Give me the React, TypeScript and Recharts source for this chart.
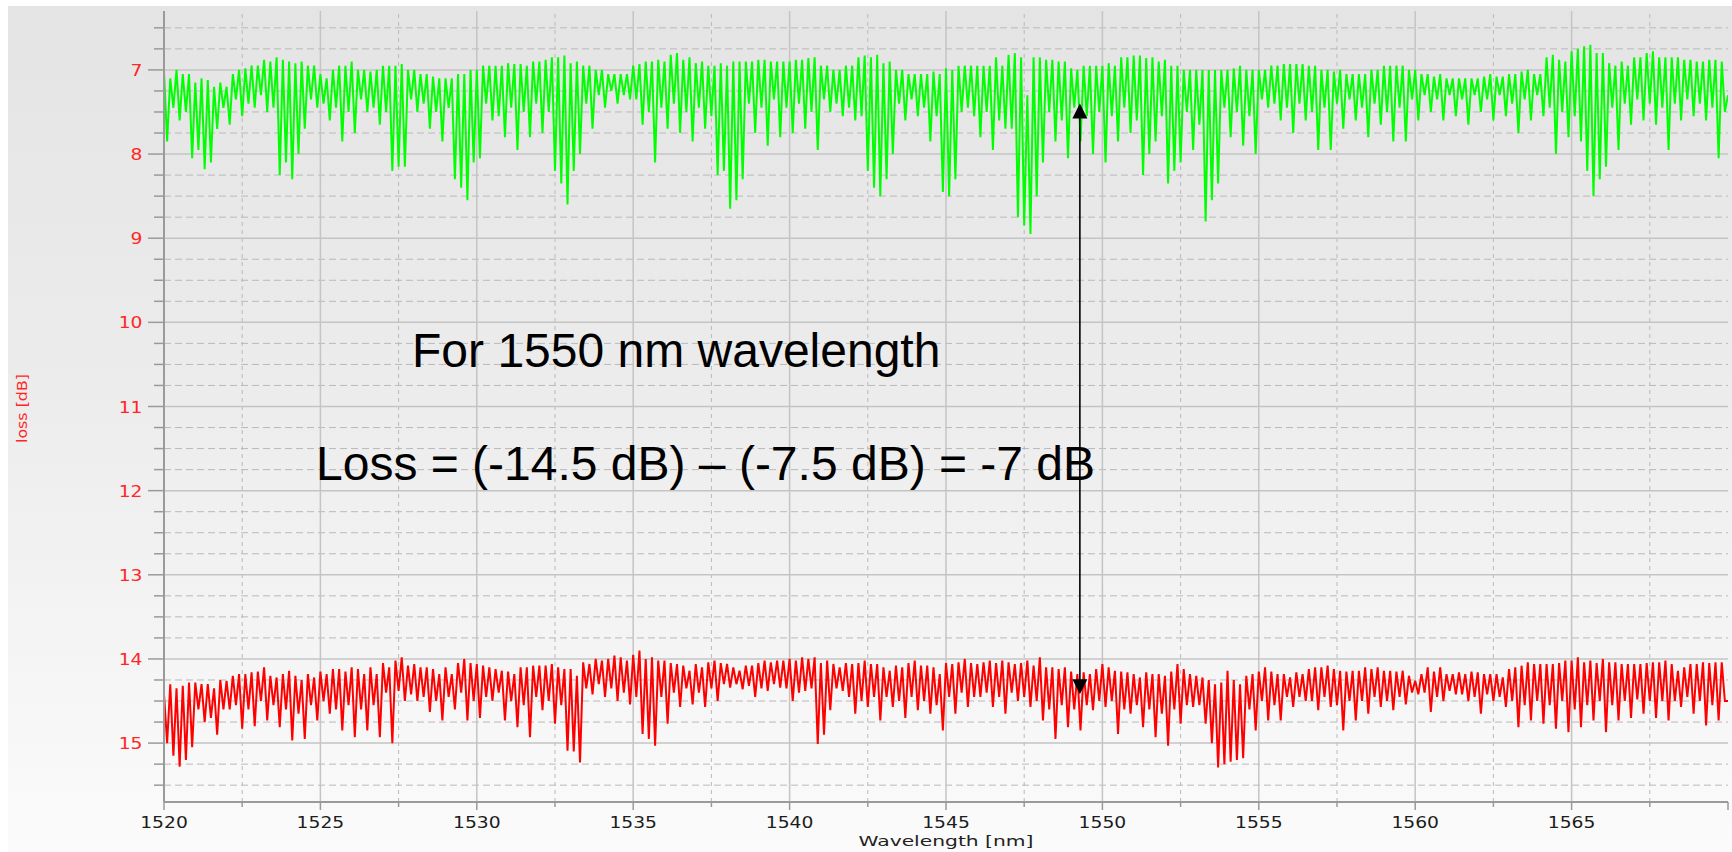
import React from 'react';
import { LineChart, Line, XAxis, YAxis, ReferenceLine, ReferenceDot } from 'recharts';

// Sampling grid of the two traces (nm)
const WL_START = 1520;
const WL_STEP = 0.1;

const greenPeaks = [
  7.02, 7.85, 7.0, 7.6, 7.05, 8.05, 7.1, 8.18, 7.2, 7.7,
  7.2, 7.65, 7.0, 7.55, 6.95, 7.45, 6.88, 7.5, 6.85, 8.25,
  6.9, 8.3, 6.9, 7.7, 6.95, 7.45, 7.1, 7.6, 6.95, 7.85,
  6.9, 7.75, 7.0, 7.5, 7.0, 7.65, 6.95, 8.2, 6.93, 8.15,
  7.0, 7.5, 7.05, 7.7, 7.1, 7.85, 7.1, 8.3, 7.05, 8.55,
  7.0, 8.05, 6.95, 7.6, 6.95, 7.8, 6.93, 7.95, 6.95, 7.8,
  6.9, 7.75, 6.85, 8.2, 6.83, 8.6, 6.9, 8.0, 6.95, 7.7,
  7.0, 7.45, 7.05, 7.4, 7.05, 7.35, 6.93, 7.65, 6.9, 8.1,
  6.9, 7.7, 6.8, 7.75, 6.85, 7.85, 6.9, 7.7, 6.95, 8.25,
  6.95, 8.65, 6.9, 8.3, 6.9, 7.75, 6.88, 7.9, 6.9, 7.8,
  6.9, 7.75, 6.88, 7.7, 6.85, 7.95, 6.95, 7.5, 7.0, 7.55,
  6.95, 7.6, 6.83, 8.2, 6.82, 8.5, 6.9, 8.0, 7.0, 7.6,
  7.05, 7.55, 7.05, 7.85, 7.05, 8.45, 7.0, 8.3, 6.95, 7.45,
  6.95, 7.8, 6.95, 7.95, 6.95, 7.7, 6.8, 8.75, 7.3, 8.95,
  6.85, 8.1, 6.88, 7.85, 6.9, 8.05, 7.0, 7.85, 6.95, 8.0,
  6.95, 8.1, 6.95, 7.85, 6.85, 7.75, 6.83, 8.25, 6.85, 7.85,
  6.88, 8.35, 6.95, 8.1, 7.0, 7.95, 7.0, 8.8, 7.0, 8.35,
  7.0, 7.8, 6.95, 7.9, 7.0, 8.0, 7.0, 7.45, 6.95, 7.6,
  6.93, 7.75, 6.93, 7.6, 6.95, 7.95, 7.0, 7.95, 7.0, 7.7,
  7.05, 7.6, 7.05, 7.8, 7.0, 7.65, 6.95, 7.85, 6.95, 7.85,
  7.0, 7.6, 7.05, 7.5, 7.05, 7.6, 7.1, 7.55, 7.1, 7.65,
  7.1, 7.5, 7.05, 7.6, 7.08, 7.55, 7.05, 7.75, 7.0, 7.6,
  7.05, 7.55, 6.82, 8.0, 6.9, 7.8, 6.75, 7.85, 6.7, 8.5,
  6.8, 8.15, 6.95, 7.95, 6.95, 7.65, 6.85, 7.6, 6.78, 7.65,
  6.85, 7.95, 6.85, 7.6, 6.88, 7.55, 6.9, 7.6, 6.88, 8.05,
  7.3,
];

// Upper trace, the spikes of the dense band between the main ones
const greenBand = [
  7.1, 7.45, 7.05, 7.5, 7.15, 7.95, 7.12, 8.1, 7.15, 7.45,
  7.05, 7.35, 6.98, 7.4, 6.95, 7.3, 6.9, 7.45, 6.88, 8.1,
  6.92, 8.0, 6.95, 7.35, 7.05, 7.4, 7.0, 7.45, 6.95, 7.5,
  7.0, 7.35, 7.02, 7.45, 6.95, 7.5, 6.95, 8.15, 7.0, 7.35,
  7.05, 7.4, 7.08, 7.5, 7.1, 7.45, 7.05, 8.4, 7.0, 8.1,
  6.95, 7.4, 6.95, 7.55, 6.92, 7.45, 6.93, 7.5, 6.9, 7.4,
  6.88, 7.5, 6.85, 8.35, 6.92, 8.2, 6.95, 7.4, 7.0, 7.3,
  7.05, 7.25, 7.05, 7.3, 6.95, 7.35, 6.9, 7.5, 6.88, 7.45,
  6.82, 7.4, 6.88, 7.5, 6.92, 7.45, 6.95, 7.55, 6.92, 8.2,
  6.9, 8.55, 6.9, 7.4, 6.88, 7.45, 6.9, 7.35, 6.9, 7.45,
  6.88, 7.4, 6.86, 7.5, 6.95, 7.35, 7.0, 7.4, 6.95, 7.45,
  6.85, 7.55, 6.85, 8.4, 6.92, 8.3, 7.0, 7.4, 7.05, 7.35,
  7.05, 7.45, 7.02, 7.55, 6.98, 8.5, 6.95, 7.5, 6.95, 7.55,
  6.95, 7.5, 6.85, 7.6, 6.82, 7.7, 6.85, 8.85, 6.85, 8.5,
  6.88, 7.5, 6.9, 7.6, 6.98, 7.45, 6.95, 7.55, 6.95, 7.5,
  6.92, 7.55, 6.85, 7.45, 6.83, 7.6, 6.86, 8.0, 6.9, 7.55,
  6.95, 8.2, 7.0, 7.5, 7.0, 7.65, 7.0, 8.55, 7.0, 7.45,
  6.98, 7.5, 7.0, 7.55, 7.0, 7.35, 6.95, 7.4, 6.93, 7.45,
  6.93, 7.4, 6.95, 7.5, 7.0, 7.45, 7.02, 7.4, 7.05, 7.35,
  7.05, 7.45, 7.0, 7.4, 6.95, 7.5, 6.95, 7.45, 7.0, 7.35,
  7.05, 7.3, 7.08, 7.35, 7.1, 7.3, 7.1, 7.35, 7.1, 7.3,
  7.08, 7.35, 7.08, 7.3, 7.05, 7.4, 7.02, 7.35, 7.05, 7.3,
  6.85, 7.45, 6.88, 7.5, 6.78, 7.55, 6.72, 8.2, 6.8, 8.3,
  6.92, 7.45, 6.9, 7.4, 6.85, 7.35, 6.8, 7.4, 6.85, 7.45,
  6.85, 7.4, 6.88, 7.35, 6.9, 7.4, 6.88, 7.45, 6.9, 7.5,
];

// Lower trace (through the device under test), main spikes, loss in dB
const redPeaks = [
  14.42, 15.0, 14.35, 15.28, 14.28, 15.05, 14.3, 14.75, 14.35, 14.9,
  14.26, 14.6, 14.18, 14.83, 14.16, 14.8, 14.1, 14.73, 14.22, 14.81,
  14.14, 14.97, 14.25, 14.95, 14.22, 14.73, 14.18, 14.65, 14.12, 14.85,
  14.1, 14.93, 14.18, 14.85, 14.18, 14.93, 14.1, 15.0, 13.98, 14.5,
  14.06, 14.5, 14.1, 14.63, 14.18, 14.73, 14.18, 14.6, 14.0, 14.73,
  14.06, 14.7, 14.1, 14.5, 14.14, 14.73, 14.18, 14.81, 14.1, 14.93,
  14.08, 14.61, 14.06, 14.77, 14.12, 15.09, 14.2, 15.23, 14.06, 14.42,
  14.02, 14.45, 13.96, 14.5, 14.02, 14.54, 13.9, 14.89, 13.98, 15.03,
  14.02, 14.77, 14.06, 14.57, 14.14, 14.54, 14.1, 14.57, 14.02, 14.5,
  14.06, 14.34, 14.14, 14.36, 14.08, 14.45, 14.02, 14.38, 14.02, 14.34,
  14.0, 14.5, 13.98, 14.38, 13.98, 15.01, 14.02, 14.61, 14.1, 14.38,
  14.06, 14.65, 14.02, 14.57, 14.06, 14.73, 14.14, 14.57, 14.1, 14.7,
  14.02, 14.61, 14.08, 14.65, 14.18, 14.85, 14.06, 14.65, 14.0, 14.57,
  14.06, 14.45, 14.02, 14.57, 14.02, 14.65, 14.06, 14.5, 14.02, 14.57,
  13.98, 14.73, 14.1, 14.95, 14.1, 14.81, 14.18, 14.85, 14.18, 14.61,
  14.06, 14.57, 14.14, 14.89, 14.16, 14.65, 14.22, 14.81, 14.18, 14.93,
  14.2, 15.03, 14.06, 14.77, 14.18, 14.57, 14.22, 14.77, 14.3, 15.29,
  14.14, 15.22, 14.3, 15.18, 14.18, 14.85, 14.1, 14.73, 14.18, 14.73,
  14.22, 14.57, 14.18, 14.5, 14.1, 14.61, 14.08, 14.57, 14.14, 14.85,
  14.14, 14.73, 14.1, 14.65, 14.1, 14.57, 14.14, 14.61, 14.14, 14.54,
  14.26, 14.42, 14.1, 14.63, 14.1, 14.5, 14.18, 14.42, 14.18, 14.5,
  14.16, 14.65, 14.18, 14.5, 14.22, 14.57, 14.1, 14.81, 14.04, 14.73,
  14.06, 14.77, 14.06, 14.83, 14.02, 14.87, 13.98, 14.81, 14.02, 14.73,
  14.0, 14.87, 14.04, 14.73, 14.06, 14.7, 14.06, 14.65, 14.04, 14.7,
  14.02, 14.73, 14.14, 14.57, 14.06, 14.65, 14.04, 14.79, 14.04, 14.73,
  14.5,
];

// Lower trace, the spikes of the dense band
const redBand = [
  14.3, 15.15, 14.32, 15.2, 14.28, 14.6, 14.3, 14.7, 14.25, 14.6,
  14.2, 14.55, 14.18, 14.6, 14.15, 14.5, 14.2, 14.55, 14.18, 14.6,
  14.2, 14.65, 14.18, 14.55, 14.15, 14.5, 14.12, 14.6, 14.15, 14.55,
  14.12, 14.6, 14.1, 14.55, 14.05, 14.4, 14.02, 14.38, 14.08, 14.42,
  14.1, 14.45, 14.12, 14.5, 14.1, 14.45, 14.05, 14.4, 14.05, 14.5,
  14.08, 14.45, 14.12, 14.4, 14.15, 14.5, 14.1, 14.55, 14.08, 14.45,
  14.08, 14.5, 14.1, 14.55, 14.12, 15.1, 14.04, 14.35, 14.0, 14.3,
  14.0, 14.35, 13.98, 14.4, 13.95, 14.45, 14.0, 14.95, 14.02, 14.45,
  14.05, 14.4, 14.08, 14.35, 14.06, 14.4, 14.04, 14.35, 14.05, 14.3,
  14.1, 14.3, 14.08, 14.32, 14.05, 14.35, 14.04, 14.3, 14.02, 14.35,
  14.02, 14.4, 14.0, 14.35, 14.05, 14.9, 14.06, 14.35, 14.05, 14.45,
  14.05, 14.5, 14.06, 14.45, 14.1, 14.45, 14.08, 14.5, 14.05, 14.45,
  14.08, 14.5, 14.1, 14.55, 14.05, 14.45, 14.04, 14.4, 14.05, 14.45,
  14.04, 14.4, 14.05, 14.45, 14.04, 14.4, 14.05, 14.45, 14.08, 14.5,
  14.1, 14.6, 14.12, 14.55, 14.15, 14.6, 14.16, 14.55, 14.12, 14.5,
  14.1, 14.5, 14.15, 14.6, 14.18, 14.55, 14.16, 14.6, 14.18, 14.65,
  14.15, 14.6, 14.12, 14.55, 14.2, 14.55, 14.25, 15.0, 14.28, 15.25,
  14.25, 15.2, 14.2, 14.6, 14.15, 14.5, 14.15, 14.55, 14.18, 14.45,
  14.16, 14.45, 14.12, 14.5, 14.1, 14.45, 14.12, 14.55, 14.15, 14.5,
  14.14, 14.5, 14.12, 14.45, 14.14, 14.5, 14.15, 14.45, 14.2, 14.4,
  14.18, 14.4, 14.15, 14.45, 14.18, 14.38, 14.16, 14.42, 14.15, 14.45,
  14.18, 14.42, 14.18, 14.45, 14.12, 14.5, 14.08, 14.55, 14.06, 14.5,
  14.06, 14.55, 14.05, 14.5, 14.02, 14.6, 14.04, 14.55, 14.05, 14.5,
  14.04, 14.55, 14.06, 14.5, 14.06, 14.48, 14.05, 14.5, 14.04, 14.5,
  14.06, 14.5, 14.1, 14.45, 14.06, 14.5, 14.05, 14.55, 14.04, 14.5,
];

// Axis ticks
const xLabelTicks = [1520, 1525, 1530, 1535, 1540, 1545, 1550, 1555, 1560, 1565];
const xMajorTicks = [1520, 1525, 1530, 1535, 1540, 1545, 1550, 1555, 1560, 1565, 1570];
const xMinorTicks = [1522.5, 1527.5, 1532.5, 1537.5, 1542.5, 1547.5, 1552.5, 1557.5, 1562.5, 1567.5];
const yMajorTicks = [7, 8, 9, 10, 11, 12, 13, 14, 15];
const yMinorTicks = [
  6.5, 6.75, 7.25, 7.5, 7.75, 8.25, 8.5, 8.75, 9.25, 9.5, 9.75, 10.25, 10.5, 10.75,
  11.25, 11.5, 11.75, 12.25, 12.5, 12.75, 13.25, 13.5, 13.75, 14.25, 14.5, 14.75,
  15.25, 15.5,
];
const X_DOMAIN = [1520, 1570];
const Y_DOMAIN = [6.3, 15.7];

// Annotations (data coordinates)
const ANNOT_LINE1 = 'For 1550 nm wavelength';
const ANNOT_LINE2 = 'Loss = (-14.5 dB) \u2013 (-7.5 dB) = -7 dB';
const ANNOT1_POS = { x: 1527.93, y: 10.53 };
const ANNOT2_POS = { x: 1524.86, y: 11.87 };
const ARROW_X = 1549.28;
const ARROW_TOP = 7.4;
const ARROW_BOTTOM = 14.42;

// Merge main spikes and band spikes into one sample sequence per trace
type Row = { wl: number; green: number; red: number };
const data: Row[] = [];
{
  const pairs = (greenPeaks.length - 1) / 2;
  let k = 0;
  const push = (g: number, r: number) => {
    data.push({ wl: Math.round((WL_START + k * WL_STEP) * 100) / 100, green: g, red: r });
    k += 1;
  };
  for (let j = 0; j < pairs; j++) {
    push(greenPeaks[2 * j], redPeaks[2 * j]);
    push(greenPeaks[2 * j + 1], redPeaks[2 * j + 1]);
    push(greenBand[2 * j], redBand[2 * j]);
    push(greenBand[2 * j + 1], redBand[2 * j + 1]);
  }
  push(greenPeaks[greenPeaks.length - 1], redPeaks[redPeaks.length - 1]);
}

const AXIS = '#9a9a9a';
const GRID_SOLID = '#c4c4c4';
const GRID_DASH = '#b9b9b9';
const DIGIT_W = 11.9;

function XTick(props: any) {
  const { x, y, payload } = props;
  const v = payload.value;
  const major = xMajorTicks.includes(v);
  const labeled = xLabelTicks.includes(v);
  const s = String(v);
  return (
    <g>
      <line x1={x} x2={x} y1={y} y2={y + (major ? 8 : 5)} stroke={AXIS} strokeWidth={1.5} />
      {labeled && (
        <text
          x={x}
          y={y + 26}
          textAnchor="middle"
          fontFamily="DejaVu Sans"
          fontSize={16.5}
          fill="#1c1c1c"
          textLength={s.length * DIGIT_W}
          lengthAdjust="spacingAndGlyphs"
        >
          {s}
        </text>
      )}
    </g>
  );
}

function YTick(props: any) {
  const { x, y, payload } = props;
  const v = payload.value;
  const major = yMajorTicks.includes(v);
  const s = String(v);
  return (
    <g>
      <line x1={x} x2={x - (major ? 16 : 10)} y1={y} y2={y} stroke={AXIS} strokeWidth={1.5} />
      {major && (
        <text
          x={x - 21.5}
          y={y + 6}
          textAnchor="end"
          fontFamily="DejaVu Sans"
          fontSize={16.5}
          fill="#ff2626"
          textLength={s.length * DIGIT_W}
          lengthAdjust="spacingAndGlyphs"
        >
          {s}
        </text>
      )}
    </g>
  );
}

function ArrowShape(props: any) {
  const { x1, y1, x2, y2 } = props;
  const x = (x1 + x2) / 2;
  const top = Math.min(y1, y2);
  const bot = Math.max(y1, y2);
  const h = 15;
  const w = 7.5;
  return (
    <g>
      <line x1={x} x2={x} y1={top + h - 2} y2={bot - h + 2} stroke="#000" strokeWidth={1.6} />
      <polygon points={`${x},${top} ${x - w},${top + h} ${x + w},${top + h}`} fill="#000" />
      <polygon points={`${x},${bot} ${x - w},${bot - h} ${x + w},${bot - h}`} fill="#000" />
    </g>
  );
}

const annotText = (label: string) => (p: any) => (
  <text
    x={p.cx}
    y={p.cy}
    textAnchor="start"
    fontFamily="Liberation Sans, Arial, sans-serif"
    fontSize={48}
    fill="#000"
  >
    {label}
  </text>
);

export default function App() {
  const yTicks = [...yMajorTicks, ...yMinorTicks].sort((a, b) => a - b);
  const xTicks = [...xMajorTicks, ...xMinorTicks].sort((a, b) => a - b);
  return (
    <div
      style={{
        position: 'fixed',
        left: 8,
        top: 6,
        width: 1724,
        height: 846,
        background: 'linear-gradient(to bottom, #e4e4e4 0%, #ececec 45%, #fbfbfb 100%)',
      }}
    >
      <LineChart width={1724} height={846} data={data} margin={{ top: 5, right: 4, left: 0, bottom: 0 }}>
        {yMinorTicks.map((v) => (
          <ReferenceLine key={'ym' + v} y={v} stroke={GRID_DASH} strokeWidth={1} strokeDasharray="7 4" />
        ))}
        {xMinorTicks.map((v) => (
          <ReferenceLine key={'xm' + v} x={v} stroke={GRID_DASH} strokeWidth={1} strokeDasharray="4 4" />
        ))}
        {yMajorTicks.map((v) => (
          <ReferenceLine key={'yM' + v} y={v} stroke={GRID_SOLID} strokeWidth={1.5} />
        ))}
        {xMajorTicks
          .filter((v) => v > X_DOMAIN[0] && v < X_DOMAIN[1])
          .map((v) => (
            <ReferenceLine key={'xM' + v} x={v} stroke={GRID_SOLID} strokeWidth={1.5} />
          ))}
        <XAxis
          dataKey="wl"
          type="number"
          domain={X_DOMAIN}
          allowDataOverflow
          ticks={xTicks}
          interval={0}
          tickSize={0}
          tickMargin={0}
          tickLine={false}
          axisLine={{ stroke: AXIS, strokeWidth: 2 }}
          height={50}
          tick={XTick}
          label={{
            content: (p: any) => {
              const vb = p.viewBox;
              return (
                <text
                  x={vb.x + vb.width / 2}
                  y={vb.y + 44}
                  textAnchor="middle"
                  fontFamily="DejaVu Sans"
                  fontSize={14}
                  fill="#222"
                  textLength={175}
                  lengthAdjust="spacingAndGlyphs"
                >
                  Wavelength [nm]
                </text>
              );
            },
          }}
        />
        <YAxis
          type="number"
          domain={Y_DOMAIN}
          reversed
          allowDataOverflow
          ticks={yTicks}
          interval={0}
          tickSize={0}
          tickMargin={0}
          tickLine={false}
          axisLine={{ stroke: AXIS, strokeWidth: 2 }}
          width={156}
          tick={YTick}
          label={{
            content: (p: any) => {
              const vb = p.viewBox;
              const cx = vb.x + 14;
              const cy = vb.y + vb.height / 2 + 2;
              return (
                <text
                  x={cx}
                  y={cy}
                  transform={`rotate(-90 ${cx} ${cy})`}
                  textAnchor="middle"
                  dominantBaseline="central"
                  fontFamily="DejaVu Sans"
                  fontSize={14}
                  fill="#ff2626"
                  textLength={69}
                  lengthAdjust="spacingAndGlyphs"
                >
                  loss [dB]
                </text>
              );
            },
          }}
        />
        <Line
          type="linear"
          dataKey="green"
          stroke="#00ff00"
          strokeWidth={2}
          dot={false}
          isAnimationActive={false}
        />
        <Line
          type="linear"
          dataKey="red"
          stroke="#ff0000"
          strokeWidth={2}
          dot={false}
          isAnimationActive={false}
        />
        <ReferenceLine
          segment={[
            { x: ARROW_X, y: ARROW_TOP },
            { x: ARROW_X, y: ARROW_BOTTOM },
          ]}
          shape={ArrowShape}
        />
        <ReferenceDot x={ANNOT1_POS.x} y={ANNOT1_POS.y} r={0} shape={annotText(ANNOT_LINE1)} />
        <ReferenceDot x={ANNOT2_POS.x} y={ANNOT2_POS.y} r={0} shape={annotText(ANNOT_LINE2)} />
      </LineChart>
    </div>
  );
}
